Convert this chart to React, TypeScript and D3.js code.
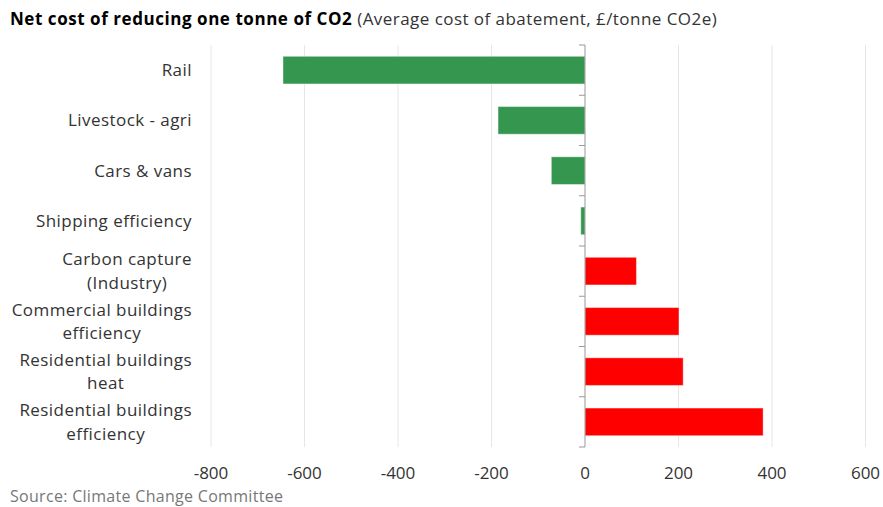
import React, { useEffect, useRef } from "react";
import * as d3 from "d3";

const categories: string[][] = [
  ["Rail"],
  ["Livestock - agri"],
  ["Cars & vans"],
  ["Shipping efficiency"],
  ["Carbon capture", "(Industry)"],
  ["Commercial buildings", "efficiency"],
  ["Residential buildings", "heat"],
  ["Residential buildings", "efficiency"],
];
const values: number[] = [-646, -186, -72, -9, 110, 201, 210, 381];
const xTicks: number[] = [-800, -600, -400, -200, 0, 200, 400, 600];
const titleBold = "Net cost of reducing one tonne of CO2";
const titleRest = " (Average cost of abatement, £/tonne CO2e)";
const source = "Source: Climate Change Committee";

const W = 883;
const H = 507;
const FONT = "'Open Sans', sans-serif";

export default function App() {
  const ref = useRef<SVGSVGElement | null>(null);

  useEffect(() => {
    const svg = d3.select(ref.current);
    svg.selectAll("*").remove();

    const x = d3.scaleLinear().domain([-800, 600]).range([211, 865.5]);
    const keys = categories.map((_, i) => String(i));
    const y = d3
      .scaleBand<string>()
      .domain(keys)
      .range([45, 447])
      .paddingInner(0.45)
      .paddingOuter(0.225);
    const step = y.step();
    const top = 45;
    const bottom = 447;

    // title
    const t = svg
      .append("text")
      .attr("x", 10)
      .attr("y", 25)
      .attr("font-family", FONT)
      .attr("font-size", 17)
      .attr("letter-spacing", 0.5)
      .attr("fill", "#000");
    t.append("tspan").attr("font-weight", "bold").attr("letter-spacing", 0.55).text(titleBold);
    t.append("tspan").attr("fill", "#333").attr("letter-spacing", 0.45).text(titleRest);

    // grid
    svg
      .append("g")
      .selectAll("line")
      .data(xTicks.filter((d) => d !== 0))
      .join("line")
      .attr("x1", (d) => x(d))
      .attr("x2", (d) => x(d))
      .attr("y1", top)
      .attr("y2", bottom)
      .attr("stroke", "#e6e6e6")
      .attr("stroke-width", 1);

    // x tick labels
    svg
      .append("g")
      .selectAll("text")
      .data(xTicks)
      .join("text")
      .attr("x", (d) => x(d))
      .attr("y", 479)
      .attr("text-anchor", "middle")
      .attr("font-family", FONT)
      .attr("font-size", 17)
      .attr("fill", "#333")
      .text((d) => String(d));

    // bars
    svg
      .append("g")
      .selectAll("rect")
      .data(values)
      .join("rect")
      .attr("x", (d) => Math.min(x(0), x(d)))
      .attr("width", (d) => Math.abs(x(d) - x(0)))
      .attr("y", (_, i) => y(String(i))!)
      .attr("height", y.bandwidth())
      .attr("fill", (d) => (d < 0 ? "#34964F" : "#FF0000"))
      .attr("stroke", "#ffffff")
      .attr("stroke-opacity", 0.4)
      .attr("stroke-width", 1);

    // y axis
    const x0 = x(0);
    svg
      .append("line")
      .attr("x1", x0)
      .attr("x2", x0)
      .attr("y1", top)
      .attr("y2", bottom)
      .attr("stroke", "#999")
      .attr("stroke-width", 1);
    svg
      .append("g")
      .selectAll("line")
      .data(d3.range(categories.length + 1))
      .join("line")
      .attr("x1", x0 - 6)
      .attr("x2", x0)
      .attr("y1", (i) => top + i * step)
      .attr("y2", (i) => top + i * step)
      .attr("stroke", "#999")
      .attr("stroke-width", 1);

    // category labels
    const labelRight = 192;
    const lineH = 23.5;
    categories.forEach((lines, i) => {
      const cy = top + (i + 0.5) * step;
      const g = svg.append("g");
      const texts = lines.map((ln) =>
        g
          .append("text")
          .attr("font-family", FONT)
          .attr("font-size", 17)
          .attr("letter-spacing", 0.45)
          .attr("fill", "#333")
          .attr("text-anchor", "middle")
          .text(ln)
      );
      const widths = texts.map((tx) => (tx.node() as SVGTextElement).getComputedTextLength());
      const maxW = Math.max(...widths);
      const cx = labelRight - maxW / 2;
      const n = lines.length;
      texts.forEach((tx, j) => {
        tx.attr("x", cx).attr("y", cy + (j - (n - 1) / 2) * lineH + 6);
      });
    });

    // source
    svg
      .append("text")
      .attr("x", 10)
      .attr("y", 502)
      .attr("font-family", FONT)
      .attr("font-size", 16)
      .attr("letter-spacing", 0.3)
      .attr("fill", "#777")
      .text(source);
  }, []);

  return (
    <svg
      ref={ref}
      width={W}
      height={H}
      style={{ position: "absolute", left: 0, top: 0, background: "#fff" }}
    />
  );
}
